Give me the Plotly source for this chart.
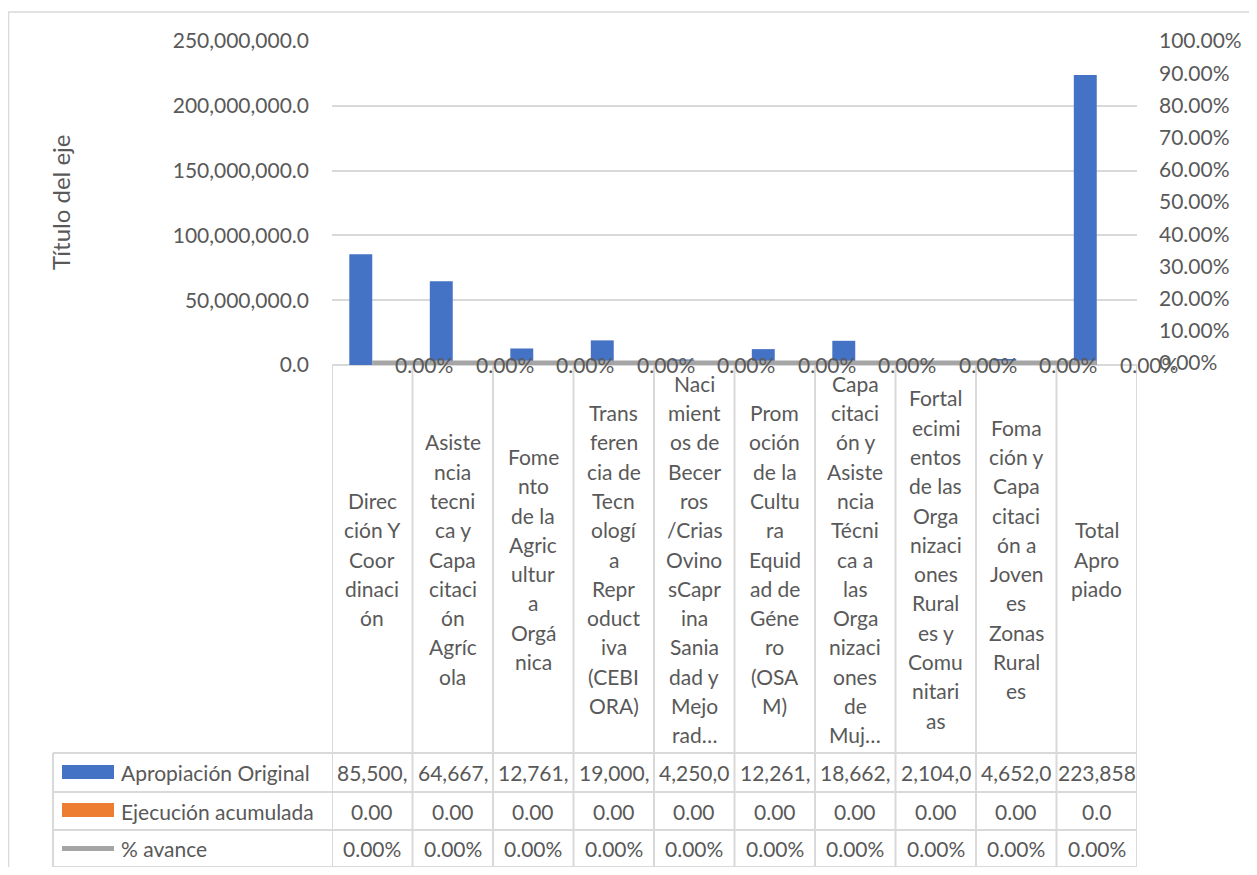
import plotly.graph_objects as go

# ---------------- data ----------------
categories = [
    "Direc<br>ción Y<br>Coor<br>dinaci<br>ón",
    "Asiste<br>ncia<br>tecni<br>ca y<br>Capa<br>citaci<br>ón<br>Agríc<br>ola",
    "Fome<br>nto<br>de la<br>Agric<br>ultur<br>a<br>Orgá<br>nica",
    "Trans<br>feren<br>cia de<br>Tecn<br>ologí<br>a<br>Repr<br>oduct<br>iva<br>(CEBI<br>ORA)",
    "Naci<br>mient<br>os de<br>Becer<br>ros<br>/Crias<br>Ovino<br>sCapr<br>ina<br>Sania<br>dad y<br>Mejo<br>rad…",
    "Prom<br>oción<br>de la<br>Cultu<br>ra<br>Equid<br>ad de<br>Géne<br>ro<br>(OSA<br>M)",
    "Capa<br>citaci<br>ón y<br>Asiste<br>ncia<br>Técni<br>ca a<br>las<br>Orga<br>nizaci<br>ones<br>de<br>Muj…",
    "Fortal<br>ecimi<br>entos<br>de las<br>Orga<br>nizaci<br>ones<br>Rural<br>es y<br>Comu<br>nitari<br>as",
    "Foma<br>ción y<br>Capa<br>citaci<br>ón a<br>Joven<br>es<br>Zonas<br>Rural<br>es",
    "Total<br>Apro<br>piado",
]
apropiacion = [85500000, 64667000, 12761000, 19000000, 4250000,
               12261000, 18662000, 2104000, 4652000, 223858000]
ejecucion = [0, 0, 0, 0, 0, 0, 0, 0, 0, 0]
ejec_decimals = [2, 2, 2, 2, 2, 2, 2, 2, 2, 1]
avance = [0, 0, 0, 0, 0, 0, 0, 0, 0, 0]
series_names = ["Apropiación Original", "Ejecución acumulada", "% avance"]
axis_title = "Título del eje"

# ---------------- styling ----------------
OFF = 8  # default page body margin
W, H = 1257 - 2 * OFF, 875 - 2 * OFF
# plot area in page px
PL, PR, PT, PB = 332, 1137, 41, 365
FONT = "Lato"
TXT = "#595959"
GRID = "#D9D9D9"
BLUE, ORANGE, GRAY = "#4472C4", "#ED7D31", "#A5A5A5"
FS = 21


def px(xp):
    return (xp - PL) / (PR - PL)


def py(yp):
    return (PB - yp) / (PB - PT)


n = len(categories)
xs = list(range(n))

fig = go.Figure()
fig.add_trace(go.Bar(x=xs, y=apropiacion, name=series_names[0],
                     marker=dict(color=BLUE, line=dict(width=0))))
fig.add_trace(go.Bar(x=xs, y=ejecucion, name=series_names[1],
                     marker=dict(color=ORANGE, line=dict(width=0))))
fig.add_trace(go.Scatter(x=xs, y=avance, name=series_names[2], yaxis="y2",
                         mode="lines", line=dict(color=GRAY, width=5),
                         cliponaxis=False))

annotations = []
shapes = []

# line data labels
for i, v in enumerate(avance):
    annotations.append(dict(x=i, y=v, xref="x", yref="y2", text=f"{v:.2%}",
                            showarrow=False, xanchor="left", yanchor="middle",
                            xshift=21, yshift=-1.5,
                            font=dict(family=FONT, size=FS, color=TXT)))

# category labels (vertically centred in label row)
row_top, row_bot = PB, 753
cy = (row_top + row_bot) / 2
LH = 29.3
for i, c in enumerate(categories):
    lines = c.split("<br>")
    m = len(lines)
    for k, ln in enumerate(lines):
        yk = cy + (k - (m - 1) / 2) * LH
        annotations.append(dict(x=i, y=py(yk), xref="x", yref="paper", text=ln,
                                showarrow=False, xanchor="center", yanchor="middle",
                                font=dict(family=FONT, size=FS, color=TXT)))

# data table rows
row_lines = [753, 792, 830, 867]
row_centers = [(row_lines[j] + row_lines[j + 1]) / 2 for j in range(3)]
row_texts = [
    [f"{v:,.1f}"[:7] for v in apropiacion],
    [f"{v:.{d}f}" for v, d in zip(ejecucion, ejec_decimals)],
    [f"{v:.2%}" for v in avance],
]
for j in range(3):
    for i in range(n):
        annotations.append(dict(x=i, y=py(row_centers[j]), xref="x", yref="paper",
                                text=row_texts[j][i], showarrow=False,
                                xanchor="center", yanchor="middle",
                                font=dict(family=FONT, size=FS, color=TXT)))
    annotations.append(dict(x=px(119), y=py(row_centers[j]), xref="paper", yref="paper",
                            text=series_names[j], showarrow=False,
                            xanchor="left", yanchor="middle",
                            font=dict(family=FONT, size=FS, color=TXT)))

# legend keys in table
shapes.append(dict(type="rect", xref="paper", yref="paper", x0=px(62), x1=px(114),
                   y0=py(779), y1=py(765), fillcolor=BLUE, line=dict(width=0)))
shapes.append(dict(type="rect", xref="paper", yref="paper", x0=px(62), x1=px(114),
                   y0=py(817), y1=py(803), fillcolor=ORANGE, line=dict(width=0)))
shapes.append(dict(type="line", xref="paper", yref="paper", x0=px(62), x1=px(114),
                   y0=py(848.5), y1=py(848.5), line=dict(color=GRAY, width=5)))

# table grid (below traces)
for yl in row_lines:
    shapes.append(dict(type="line", xref="paper", yref="paper", x0=px(53), x1=1,
                       y0=py(yl), y1=py(yl), layer="below",
                       line=dict(color=GRID, width=2)))
for i in range(n + 1):
    shapes.append(dict(type="line", xref="x", yref="paper", x0=i - 0.5, x1=i - 0.5,
                       y0=0, y1=py(867), layer="below",
                       line=dict(color=GRID, width=2)))
shapes.append(dict(type="line", xref="paper", yref="paper", x0=px(53), x1=px(53),
                   y0=py(753), y1=py(867), layer="below",
                   line=dict(color=GRID, width=2)))
shapes.append(dict(type="line", xref="paper", yref="paper", x0=0, x1=1,
                   y0=0, y1=0, layer="below", line=dict(color=GRID, width=2)))

# outer chart border
shapes.append(dict(type="line", xref="paper", yref="paper", x0=px(8.5), x1=px(8.5),
                   y0=py(12), y1=py(880), layer="below",
                   line=dict(color=GRID, width=1.5)))
shapes.append(dict(type="line", xref="paper", yref="paper", x0=px(8), x1=px(1260),
                   y0=py(12), y1=py(12), layer="below",
                   line=dict(color=GRID, width=1.5)))

# axis title
annotations.append(dict(x=px(60), y=py((PT + PB) / 2), xref="paper", yref="paper",
                        text=axis_title, textangle=-90, showarrow=False,
                        xanchor="center", yanchor="middle",
                        font=dict(family=FONT, size=24, color=TXT)))

fig.update_layout(
    width=W, height=H,
    margin=dict(l=PL - OFF, r=W - (PR - OFF), t=PT - OFF, b=H - (PB - OFF),
                pad=0, autoexpand=False),
    paper_bgcolor="white", plot_bgcolor="white",
    barmode="group", bargap=0.43, bargroupgap=0,
    showlegend=False,
    font=dict(family=FONT, size=FS, color=TXT),
    xaxis=dict(range=[-0.5, n - 0.5], showticklabels=False, showgrid=False,
               zeroline=False, ticks="", showline=False, fixedrange=True,
               automargin=False),
    yaxis=dict(range=[0, 250e6], dtick=50e6, tickformat=",.1f", showgrid=True,
               gridcolor=GRID, gridwidth=1.5, zeroline=False, ticks="",
               automargin=False,
               ticklabelstandoff=22, tickfont=dict(family=FONT, size=21, color=TXT)),
    yaxis2=dict(range=[-0.006, 1], tick0=0, dtick=0.1, tickformat=".2%", overlaying="y",
                side="right", showgrid=False, zeroline=False, ticks="",
                automargin=False,
                ticklabelstandoff=21, tickfont=dict(family=FONT, size=21, color=TXT)),
    annotations=annotations,
    shapes=shapes,
)

fig.write_html("out.html")
